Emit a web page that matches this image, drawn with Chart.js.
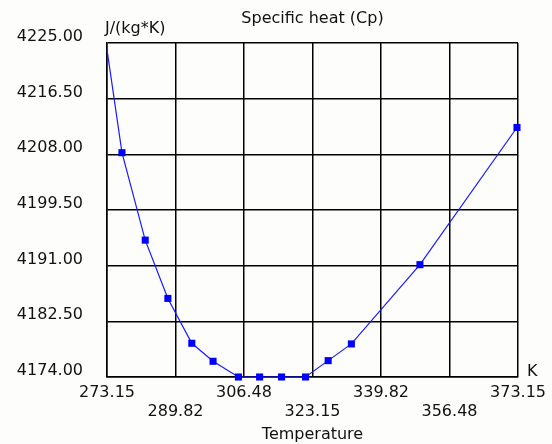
<!DOCTYPE html>
<html>
<head>
<meta charset="utf-8">
<script src="https://cdn.jsdelivr.net/npm/chart.js@4.4.1/dist/chart.umd.min.js"></script>
<style>
  html, body { margin: 0; padding: 0; background: #fdfdfb; }
  #wrap { width: 552px; height: 444px; }
</style>
</head>
<body>
<div id="wrap"><canvas id="myChart" width="552" height="444"></canvas></div>
<script>
// values
const temperatureK = [273.15, 276.79, 282.45, 287.96, 293.78, 298.95, 305.12, 310.28, 315.62, 321.45, 326.96, 332.61, 349.29, 372.9];
const specificHeat = [4224.0, 4208.25, 4194.9, 4186.0, 4179.15, 4176.4, 4174.0, 4174.0, 4174.0, 4174.0, 4176.5, 4179.05, 4191.15, 4212.1];

const xTickValues = [273.15, 289.82, 306.48, 323.15, 339.82, 356.48, 373.15];
const yTickValues = [4174.00, 4182.50, 4191.00, 4199.50, 4208.00, 4216.50, 4225.00];

const chartTitle = 'Specific heat (Cp)';
const yUnit = 'J/(kg*K)';
const xUnit = 'K';
const xTitle = 'Temperature';

const FONT = 'DejaVu Sans';

// title + unit labels sit outside of the axes, so draw them by hand
const extraText = {
  id: 'extraText',
  afterDraw(chart) {
    const ctx = chart.ctx;
    const area = chart.chartArea;
    ctx.save();
    ctx.fillStyle = '#111';
    ctx.font = '16px "' + FONT + '"';
    ctx.textBaseline = 'middle';
    ctx.textAlign = 'center';
    ctx.fillText(chartTitle, (area.left + area.right) / 2, 19);
    ctx.textAlign = 'left';
    ctx.fillText(yUnit, area.left - 2, 29);
    ctx.fillText(xUnit, area.right + 9, area.bottom - 5);
    ctx.restore();
  }
};

let myChart = document.getElementById('myChart');
new Chart(myChart, {
  type: 'line',
  data: {
    datasets: [{
      data: temperatureK.map((t, i) => ({ x: t, y: specificHeat[i] })),
      borderColor: '#1a1aff',
      backgroundColor: '#0000ff',
      borderWidth: 1.2,
      pointStyle: 'rect',
      pointRadius: (ctx) => ctx.dataIndex === 0 ? 0 : 5,
      pointBorderWidth: 0,
      tension: 0,
      clip: false
    }]
  },
  options: {
    responsive: false,
    animation: false,
    events: [],
    layout: { padding: { left: 0, right: 33, top: 43, bottom: 0 } },
    plugins: {
      legend: { display: false },
      title: { display: false },
      tooltip: { enabled: false }
    },
    scales: {
      x: {
        type: 'linear',
        min: 273.15,
        max: 373.15,
        afterBuildTicks: (scale) => { scale.ticks = xTickValues.map(v => ({ value: v })); },
        afterFit: (scale) => { scale.height = 67; },
        grid: { color: '#000', lineWidth: 1.5, drawTicks: false },
        border: { color: '#000', width: 1.5 },
        ticks: {
          autoSkip: false,
          maxRotation: 0,
          padding: 6,
          color: '#111',
          font: { family: FONT, size: 16 },
          callback: (value, index) => index % 2 ? ['', value.toFixed(2)] : value.toFixed(2)
        },
        title: {
          display: true,
          text: xTitle,
          color: '#111',
          font: { family: FONT, size: 16 },
          padding: { top: 0, bottom: 0 }
        }
      },
      y: {
        min: 4174,
        max: 4225,
        afterBuildTicks: (scale) => { scale.ticks = yTickValues.map(v => ({ value: v })); },
        afterFit: (scale) => { scale.width = 107; },
        grid: { color: '#000', lineWidth: 1.5, drawTicks: false },
        border: { color: '#000', width: 1.5 },
        ticks: {
          padding: 24,
          labelOffset: -6,
          color: '#111',
          font: { family: FONT, size: 16 },
          callback: (value) => value.toFixed(2)
        }
      }
    }
  },
  plugins: [extraText]
});
</script>
</body>
</html>
